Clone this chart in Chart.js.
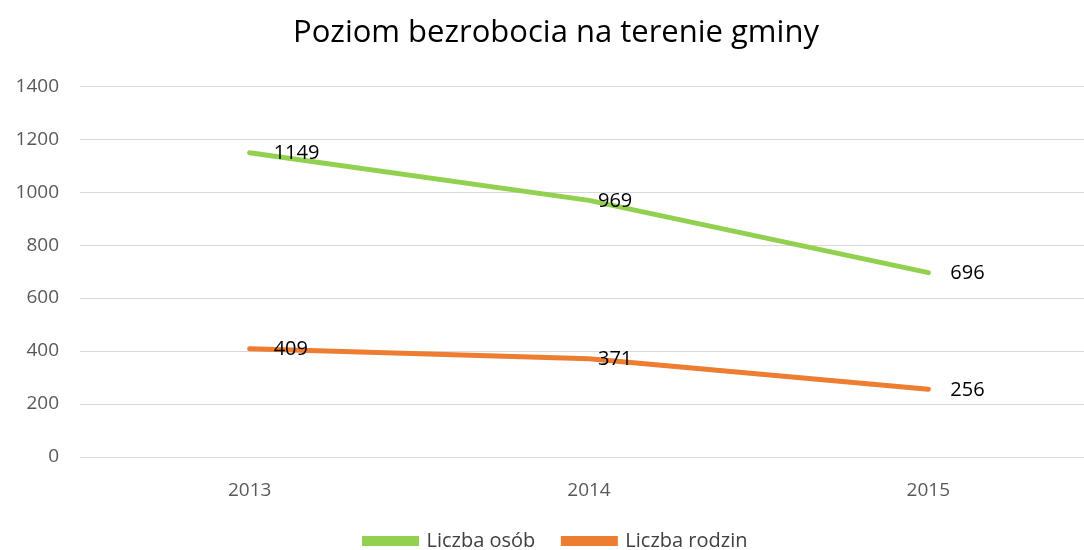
<!DOCTYPE html>
<html><head><meta charset="utf-8">
<script src="https://cdn.jsdelivr.net/npm/chart.js@4/dist/chart.umd.min.js"></script>
<style>html,body{margin:0;padding:0;overflow:hidden;background:#fff}#wrap{width:1100px;height:550px}</style>
</head><body><div id="wrap"><canvas id="c" width="1100" height="550"></canvas></div>
<script>
const categories = ['2013', '2014', '2015'];
const liczbaOsob = [1149, 969, 696];
const liczbaRodzin = [409, 371, 256];
const yTicks = [0, 200, 400, 600, 800, 1000, 1200, 1400];
const FONT = "'Open Sans', sans-serif";

const labelOffsets = [24, 9, 22];
const valueLabels = {
  id: 'valueLabels',
  afterDatasetsDraw(chart) {
    const ctx = chart.ctx;
    ctx.save();
    ctx.font = "20px " + FONT;
    ctx.fillStyle = '#000';
    ctx.textBaseline = 'middle';
    ctx.textAlign = 'left';
    chart.data.datasets.forEach((ds, di) => {
      chart.getDatasetMeta(di).data.forEach((pt, i) => {
        ctx.fillText(String(ds.data[i]), pt.x + labelOffsets[i], pt.y + 1);
      });
    });
    ctx.restore();
  }
};

new Chart(document.getElementById('c'), {
  type: 'line',
  data: {
    labels: categories,
    datasets: [
      {label: 'Liczba osób', data: liczbaOsob, borderColor: '#92D050', backgroundColor: '#92D050', borderWidth: 5, pointRadius: 0, borderCapStyle: 'round', tension: 0},
      {label: 'Liczba rodzin', data: liczbaRodzin, borderColor: '#ED7D31', backgroundColor: '#ED7D31', borderWidth: 5, pointRadius: 0, borderCapStyle: 'round', tension: 0}
    ]
  },
  options: {
    responsive: false,
    animation: false,
    layout: {padding: {left: 14, right: 2, top: 0, bottom: 0}},
    plugins: {
      title: {display: true, text: 'Poziom bezrobocia na terenie gminy', color: '#000', font: {family: FONT, size: 31, weight: 'normal'}, padding: {top: 15, bottom: 34}},
      legend: {position: 'bottom', maxHeight: 47, labels: {boxWidth: 52, boxHeight: 5, color: '#404040', font: {family: FONT, size: 20}, padding: 28}},
      tooltip: {enabled: false}
    },
    scales: {
      x: {
        offset: true,
        afterFit(axis) { axis.height = 46; },
        grid: {display: false, drawTicks: false},
        border: {display: false},
        ticks: {color: '#595959', font: {family: FONT, size: 19}, padding: 22}
      },
      y: {
        min: 0, max: 1400,
        afterBuildTicks(axis) { axis.ticks = yTicks.map(v => ({value: v})); },
        afterFit(axis) { axis.width = 66; },
        grid: {color: '#d9d9d9', lineWidth: 1, drawTicks: false},
        border: {display: false},
        ticks: {color: '#595959', font: {family: FONT, size: 19}, padding: 21, callback: v => String(v)}
      }
    }
  },
  plugins: [valueLabels]
});
</script></body></html>
